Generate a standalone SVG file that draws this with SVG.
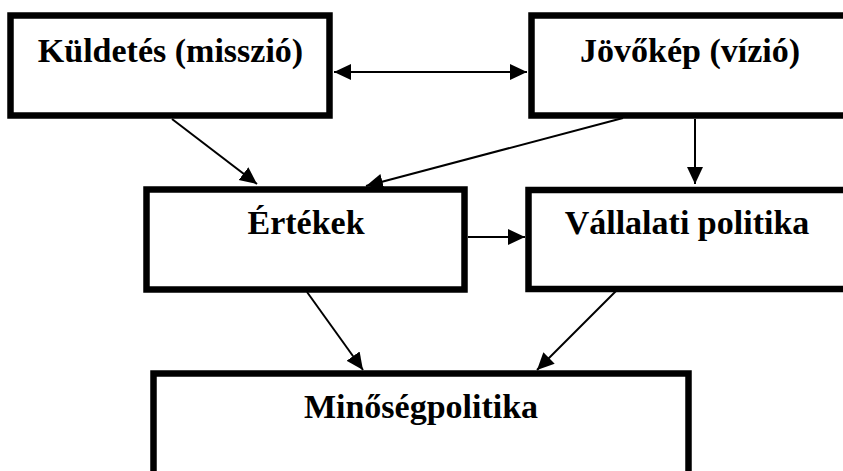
<svg xmlns="http://www.w3.org/2000/svg" width="843" height="471" viewBox="0 0 843 471">
<style>
.box{fill:#fff;stroke:#000;stroke-width:6.5}
.lbl{font-family:"Liberation Serif","Times New Roman",serif;font-weight:bold;font-size:34px;fill:#000;text-anchor:middle}
.edge{stroke:#000;stroke-width:2;fill:none}
</style>
<defs>
<marker id="ah" markerUnits="userSpaceOnUse" markerWidth="18" markerHeight="18" viewBox="0 0 18 18" refX="17" refY="9" orient="auto">
<path d="M0,1 L17,9 L0,17 Z" fill="#000"/>
</marker>
<marker id="ahs" markerUnits="userSpaceOnUse" markerWidth="18" markerHeight="18" viewBox="0 0 18 18" refX="1" refY="9" orient="auto">
<path d="M18,1 L1,9 L18,17 Z" fill="#000"/>
</marker>
</defs>
<rect width="843" height="471" fill="#fff"/>
<g id="connectors">
<line class="edge" x1="334" y1="72" x2="527" y2="72" marker-start="url(#ahs)" marker-end="url(#ah)"/>
<line class="edge" x1="172" y1="119" x2="257" y2="184" marker-end="url(#ah)"/>
<line class="edge" x1="623" y1="118" x2="366" y2="186" marker-end="url(#ah)"/>
<line class="edge" x1="695" y1="119" x2="695" y2="184" marker-end="url(#ah)"/>
<line class="edge" x1="468" y1="237" x2="525" y2="237" marker-end="url(#ah)"/>
<line class="edge" x1="307" y1="292" x2="363" y2="370" marker-end="url(#ah)"/>
<line class="edge" x1="617" y1="290" x2="537" y2="370" marker-end="url(#ah)"/>
</g>
<g id="kuldetes">
<rect class="box" x="10.5" y="15.5" width="319" height="100"/>
<text class="lbl" x="170.5" y="62">Küldetés (misszió)</text>
</g>
<g id="jovokep">
<rect class="box" x="531.5" y="15.5" width="330" height="100"/>
<text class="lbl" x="690" y="62">Jövőkép (vízió)</text>
</g>
<g id="ertekek">
<rect class="box" x="146.5" y="189.5" width="318" height="100"/>
<text class="lbl" x="306" y="234">Értékek</text>
</g>
<g id="vallalati">
<rect class="box" x="528.5" y="190" width="330" height="99"/>
<text class="lbl" x="687" y="234">Vállalati politika</text>
</g>
<g id="minoseg">
<rect class="box" x="153.5" y="373.5" width="535" height="115"/>
<text class="lbl" x="421" y="418">Minőségpolitika</text>
</g>
</svg>
